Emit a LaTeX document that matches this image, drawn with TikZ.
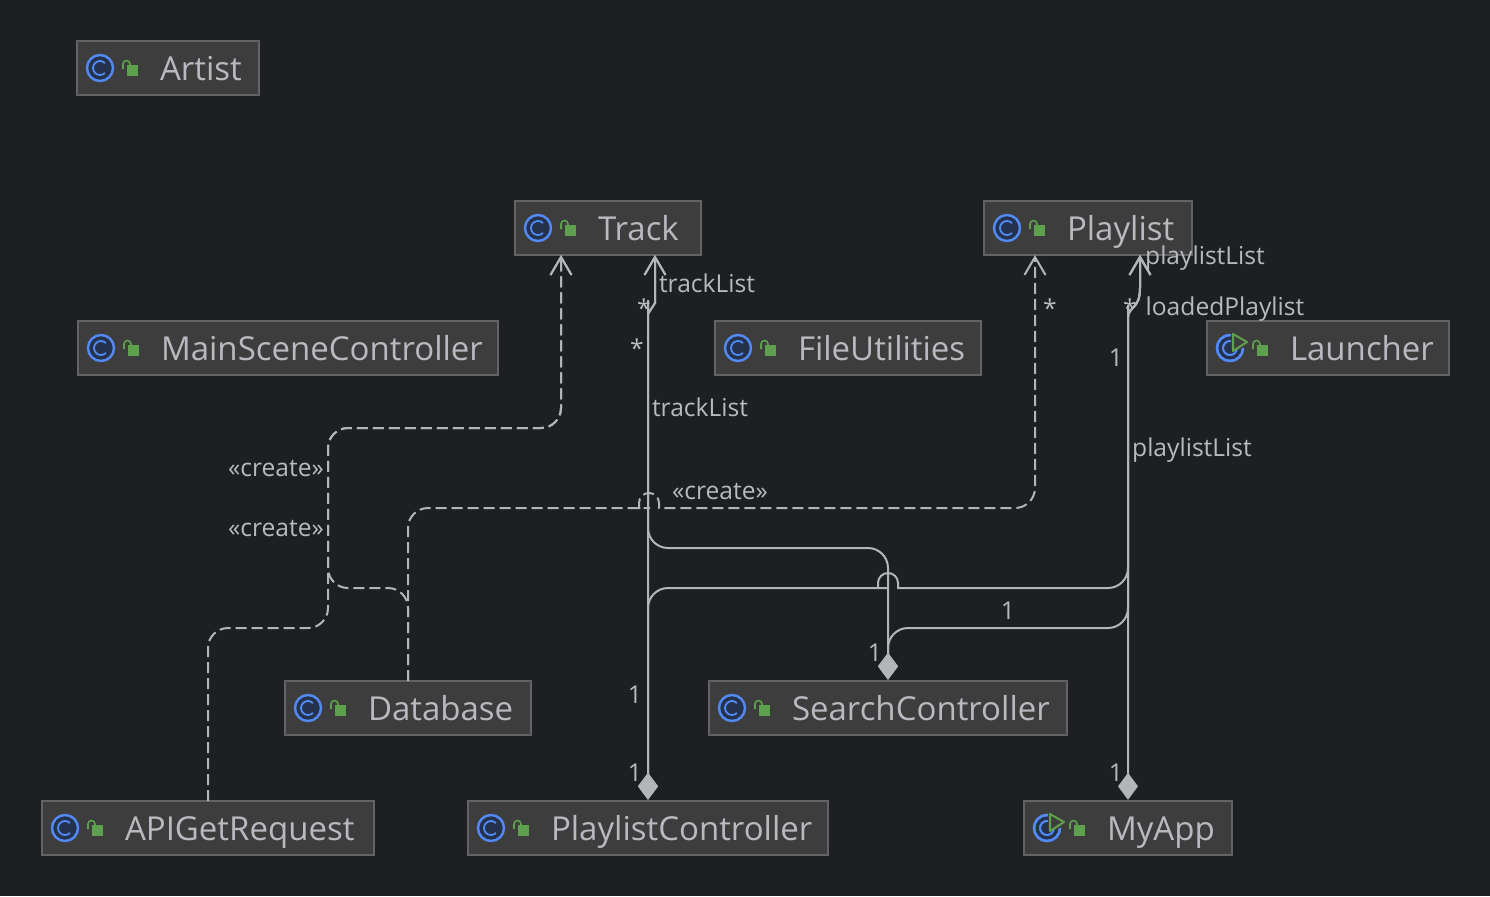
\documentclass[tikz,border=0pt]{standalone}
\usepackage{fontspec}
\setmainfont{Open Sans}
\usetikzlibrary{arrows.meta}
\definecolor{bgc}{HTML}{1E1F22}
\definecolor{boxfill}{HTML}{3D3D3D}
\definecolor{boxline}{HTML}{626365}
\definecolor{txt}{HTML}{B9BAC0}
\definecolor{wire}{HTML}{B4B5B7}
\definecolor{iblue}{HTML}{548AF7}
\definecolor{ifill}{HTML}{25324D}
\definecolor{igreen}{HTML}{5FA04E}
\tikzset{
  classbox/.style={draw=boxline,fill=boxfill,line width=0.6pt,inner sep=0pt,outer sep=0pt,anchor=west,minimum height=27pt,text height=12.5pt,text depth=0pt,text=txt,font=\fontsize{16.5}{20}\selectfont},
  lbl/.style={text=txt,font=\fontsize{12.3}{14}\selectfont,inner sep=0pt},
  assoc/.style={draw=wire,line width=1pt,rounded corners=10pt},
  dep/.style={draw=wire,line width=1pt,rounded corners=10pt,dash pattern=on 5.5pt off 2.5pt},
  compopen/.style={{Diamond[length=13.5pt,width=10pt,color=wire,fill=wire]}-{Straight Barb[length=9pt,width=10.5pt,line width=1pt,color=wire]}},
  depopen/.style={-{Straight Barb[length=9pt,width=10.5pt,line width=1pt,color=wire]}},
}
\newcommand{\classbox}[7]{%
  \pgfmathsetlengthmacro{\bw}{(#4-#2)*0.5pt}%
  \node[classbox,minimum width=\bw] (#1) at (#2,{(#3+#5)/2}) {\makebox[\bw][l]{\hspace{41.5pt}#6}};
  \begin{scope}[shift={(#2+23,{(#3+#5)/2})},x=0.5pt,y=0.5pt]
    \fill[ifill] (0,0) circle (13);
    \draw[iblue,line width=1.2pt] (0,0) circle (13);
    \draw[iblue,line width=0.9pt] (45:7) arc (45:315:7);
    \fill[igreen] (27,-8) rectangle (38,3);
    \draw[igreen,line width=0.8pt] (23,-1) -- (23,4) arc (180:0:3.5) -- (30,3);
    \ifnum#7=1
      \fill[boxfill] (1,-2) rectangle (17,16);
      \draw[iblue,line width=1.2pt] (13,0) arc (0:-270:13);
      \draw[iblue,line width=0.9pt] (7,0) arc (0:-270:7);
      \draw[igreen,line width=1pt,line join=round,fill=boxfill] (3,-3) -- (3,14) -- (17,6) -- cycle;
    \fi
  \end{scope}
}
\begin{document}
\begin{tikzpicture}[x=0.5pt,y=-0.5pt]
\useasboundingbox (0,0) rectangle (1490,896);
\fill[bgc] (0,0) rectangle (1490,896);
\classbox{artist}{77}{41}{259}{95}{Artist}{0}
\classbox{track}{515}{201}{701}{255}{Track}{0}
\classbox{playlist}{984}{201}{1192}{255}{Playlist}{0}
\classbox{mainscene}{78}{321}{498}{375}{MainSceneController}{0}
\classbox{fileutil}{715}{321}{981}{375}{FileUtilities}{0}
\classbox{launcher}{1207}{321}{1449}{375}{Launcher}{1}
\classbox{database}{285}{681}{531}{735}{Database}{0}
\classbox{searchc}{709}{681}{1067}{735}{SearchController}{0}
\classbox{apiget}{42}{801}{374}{855}{APIGetRequest}{0}
\classbox{playlistc}{468}{801}{828}{855}{PlaylistController}{0}
\classbox{myapp}{1024}{801}{1232}{855}{MyApp}{1}

% solid associations
\draw[assoc,compopen] ([yshift=0.6pt]playlistc.north) -- (648,320) [sharp corners] -- (648,314) -- (655,303) -- (655,290) -- ([xshift=23.5pt]track.south);
\draw[assoc,compopen] ([yshift=0.6pt]searchc.north) -- (888,548) -- (648,548) -- (648,320) [sharp corners] -- (648,314) -- (655,303) -- (655,290) -- ([xshift=23.5pt]track.south);
\draw[assoc,compopen] ([yshift=0.6pt]myapp.north) -- (1128,325) [sharp corners] -- (1128,318) .. controls (1128,306) and (1140,310) .. (1140,288) -- ([xshift=26pt]playlist.south);
\draw[assoc,compopen] ([yshift=0.6pt]playlistc.north) -- (648,588) -- (868,588) [sharp corners] -- (878,588) -- (878,583) arc[start angle=180,end angle=0,radius=5pt] -- (898,588) -- (908,588) [rounded corners=10pt] -- (1128,588) -- (1128,325) [sharp corners] -- (1128,318) .. controls (1128,306) and (1140,310) .. (1140,288) -- ([xshift=26pt]playlist.south);
\draw[assoc,compopen] ([yshift=0.6pt]searchc.north) -- (888,628) -- (1128,628) -- (1128,325) [sharp corners] -- (1128,318) .. controls (1128,306) and (1140,310) .. (1140,288) -- ([xshift=26pt]playlist.south);

% dashed create dependencies
\draw[dep,depopen] (database.north) -- (408,508) -- (630,508) [sharp corners] -- (639,508) -- (639,503) arc[start angle=180,end angle=0,radius=5pt] -- (659,508) -- (670,508) [rounded corners=10pt] -- (1035,508) -- ([xshift=-26.5pt]playlist.south);
\draw[dep,depopen] (database.north) -- (408,588) -- (328,588) -- (328,428) -- (561,428) -- ([xshift=-23.5pt]track.south);
\draw[dep,depopen] (apiget.north) -- (208,628) -- (328,628) -- (328,428) -- (561,428) -- ([xshift=-23.5pt]track.south);

% labels
\node[lbl] (create1) at (276,469) {«create»};
\node[lbl] (create2) at (276,529) {«create»};
\node[lbl] (create3) at (720,491) {«create»};
\node[lbl] (tl1) at (707,283) {trackList};
\node[lbl] (tl2) at (700,407) {trackList};
\node[lbl] (st1) at (644,308) {*};
\node[lbl] (st2) at (637,348) {*};
\node[lbl] (st3) at (1050,308) {*};
\node[lbl] (st4) at (1130,308) {*};
\node[lbl] (pl1) at (1205,258) {playlistList};
\node[lbl] (pl2) at (1192,450) {playlistList};
\node[lbl] (lp) at (1225,309) {loadedPlaylist};
\node[lbl] (o1) at (1116,358) {1};
\node[lbl] (o2) at (1008,611) {1};
\node[lbl] (o3) at (875,653) {1};
\node[lbl] (o4) at (635,695) {1};
\node[lbl] (o5) at (635,773) {1};
\node[lbl] (o6) at (1116,773) {1};
\end{tikzpicture}
\end{document}
